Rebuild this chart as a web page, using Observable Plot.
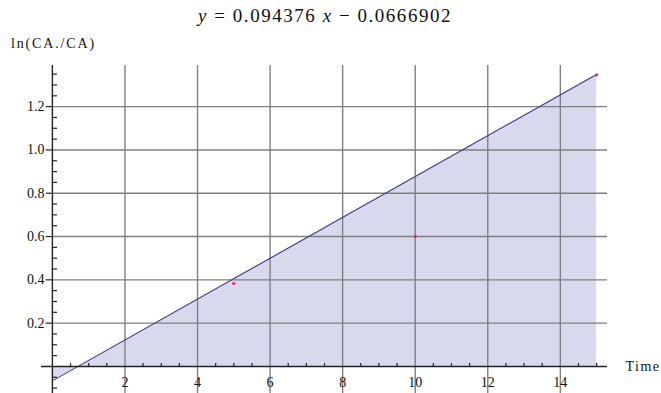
<!DOCTYPE html>
<html><head><meta charset="utf-8">
<script src="https://cdn.jsdelivr.net/npm/d3@7"></script>
<script src="https://cdn.jsdelivr.net/npm/@observablehq/plot@0.6"></script>
<style>
body{margin:0;background:#fff;}
#wrap{width:661px;height:393px;position:relative;overflow:hidden;}
#head{height:56px;position:relative;}
#title{position:absolute;top:5px;left:198px;white-space:nowrap;font-family:"Times New Roman","Liberation Serif","DejaVu Serif",serif;font-size:19px;color:#111;}
#ylab{position:absolute;top:36px;left:11px;white-space:nowrap;font-family:"Times New Roman","Liberation Serif","DejaVu Serif",serif;font-size:14px;color:#111;}
svg{display:block;}
</style></head>
<body><div id="wrap"><div id="head"><span id="title"><i>y</i> = 0.094376 <i>x</i> − 0.0666902</span><span id="ylab">ln(CA./CA)</span></div><div id="chart"></div></div>
<script>
const fitX = [0, 15];
const fitY = [-0.0667, 1.3489];
const ptX = [5, 10, 15];
const ptY = [0.383, 0.600, 1.347];
const xTicks = [2, 4, 6, 8, 10, 12, 14];
const yTicks = [0.2, 0.4, 0.6, 0.8, 1.0, 1.2];
const yTickLabels = ["0.2", "0.4", "0.6", "0.8", "1.0", "1.2"];
const xMinor = d3.range(0, 15.01, 0.5).filter(v => v % 2 !== 0);
const yMinor = d3.range(-0.1, 1.36, 0.05).map(v => +v.toFixed(2)).filter(v => Math.abs(v * 5 - Math.round(v * 5)) > 1e-6);

const fit = fitX.map((x, i) => ({x, y: fitY[i]}));
const pts = ptX.map((x, i) => ({x, y: ptY[i]}));
const serif = "'Times New Roman', 'Liberation Serif', 'DejaVu Serif', serif";

const chart = Plot.plot({
  width: 661, height: 337,
  marginLeft: 41, marginRight: 54, marginTop: 9, marginBottom: 0,
  x: {domain: [-0.3, 15.3], axis: null},
  y: {domain: [-0.125, 1.39], axis: null},
  style: {fontFamily: serif},
  marks: [
    Plot.areaY(fit, {x: "x", y1: 0, y2: "y", fill: "#d9d9ee"}),
    Plot.ruleX(xTicks, {x: d => d, y1: -0.125, y2: 1.39, stroke: "#7f7f7f", strokeWidth: 1.4}),
    Plot.ruleY(yTicks, {y: d => d, x1: 0, x2: 15.3, stroke: "#7f7f7f", strokeWidth: 1.4}),
    Plot.line(fit, {x: "x", y: "y", stroke: "#3b3b86", strokeWidth: 1.1}),
    Plot.ruleY([0], {x1: -0.3, x2: 15.3, stroke: "#222", strokeWidth: 1.4}),
    Plot.ruleX([0], {y1: -0.125, y2: 1.39, stroke: "#222", strokeWidth: 1.4}),
    Plot.ruleX(xMinor, {x: d => d, y1: 0, y2: 0.013, stroke: "#222", strokeWidth: 1.2}),
    Plot.ruleY(yMinor, {y: d => d, x1: 0, x2: 0.14, stroke: "#222", strokeWidth: 1.2}),
    Plot.ruleY(yTicks, {y: d => d, x1: -0.17, x2: 0, stroke: "#222", strokeWidth: 1.2}),
    Plot.text(xTicks, {x: d => d, y: 0, dy: 16, text: d => String(d), fontFamily: serif, fontSize: 14, fill: "#111"}),
    Plot.text(yTicks, {x: 0, y: d => d, dx: -8, textAnchor: "end", text: (d, i) => yTickLabels[i], fontFamily: serif, fontSize: 14, fill: "#111"}),
    Plot.text(["Time"], {x: 15.3, y: 0, dx: 18, textAnchor: "start", text: d => d, fontFamily: serif, fontSize: 14, fill: "#111"})
    ,
    Plot.dot(pts, {x: "x", y: "y", r: 1.6, fill: "#e0304a", stroke: "none"})
  ]
});
document.getElementById("chart").appendChild(chart);

function fitSpacing(el, target) {
  const n = el.textContent.length;
  const w = el.getBoundingClientRect().width;
  const ls = Math.max(0, (target - w) / n);
  el.style.letterSpacing = ls + "px";
}
fitSpacing(document.getElementById("title"), 254);
fitSpacing(document.getElementById("ylab"), 85);
chart.querySelectorAll("text").forEach(t => {
  if (t.textContent === "Time") {
    const w = t.getComputedTextLength();
    t.setAttribute("letter-spacing", Math.max(0, (35 - w) / 4));
  }
});
</script></body></html>
